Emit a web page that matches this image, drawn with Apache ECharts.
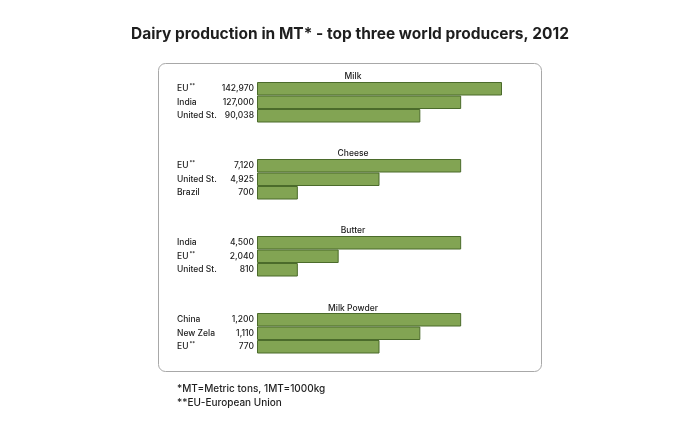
<!DOCTYPE html>
<html>
<head>
<meta charset="utf-8">
<script src="https://cdn.jsdelivr.net/npm/echarts@6/dist/echarts.min.js"></script>
<style>html,body{margin:0;padding:0;background:#fff;}#c{width:700px;height:436px;}</style>
</head>
<body>
<div id="c"></div>
<script>
// Panels (products)
var panelTitles = ['Milk', 'Cheese', 'Butter', 'Milk Powder'];
// Countries per panel (top to bottom)
var milkCountries = ['EU**', 'India', 'United St.'];
var cheeseCountries = ['EU**', 'United St.', 'Brazil'];
var butterCountries = ['India', 'EU**', 'United St.'];
var powderCountries = ['China', 'New Zela', 'EU**'];
// Printed production values (thousand MT)
var milkValues = [142970, 127000, 90038];
var cheeseValues = [7120, 4925, 700];
var butterValues = [4500, 2040, 810];
var powderValues = [1200, 1110, 770];
// Bar lengths as drawn in the picture (the picture's bars use a stepped scale)
var milkBars = [6, 5, 4];
var cheeseBars = [5, 3, 1];
var butterBars = [5, 2, 1];
var powderBars = [5, 4, 3];

var countries = [milkCountries, cheeseCountries, butterCountries, powderCountries];
var values = [milkValues, cheeseValues, butterValues, powderValues];
var bars = [milkBars, cheeseBars, butterBars, powderBars];

var FONT = 'Inter, "Noto Sans", sans-serif';
var LS = 8.5;
var gridTops = [82, 159, 236, 313];
var titleTops = [71.5, 149, 225.5, 303.5];

var grids = [], xAxes = [], yAxes = [], series = [], titles = [];
titles.push({
  text: 'Dairy production in MT* - top three world producers, 2012',
  left: 'center', top: 26.5, padding: 0,
  textStyle: {fontFamily: FONT, fontSize: 15.5, fontWeight: 'bold', color: '#1e1e1e'}
});
function fmt(v) { return v.toLocaleString('en-US'); }
for (var i = 0; i < 4; i++) {
  grids.push({left: 257, width: 245, top: gridTops[i], height: 40.5, containLabel: false});
  xAxes.push({type: 'value', gridIndex: i, min: 0, max: 6, show: false});
  yAxes.push({
    type: 'category', gridIndex: i, inverse: true, data: countries[i],
    axisLine: {show: false}, axisTick: {show: false},
    axisLabel: {
      margin: 80, align: 'left', fontFamily: FONT, fontSize: LS, fontWeight: 500, color: '#222',
      formatter: function (v) {
        if (v.indexOf('**') >= 0) return '{n|' + v.replace('**', '') + '}{s|**}';
        return '{n|' + v + '}';
      },
      rich: {
        n: {fontFamily: FONT, fontSize: LS, fontWeight: 500, color: '#222'},
        s: {fontFamily: FONT, fontSize: 5.5, color: '#222', verticalAlign: 'top', padding: [0, 0, 4, 1]}
      }
    }
  });
  (function (vals) {
    series.push({
      type: 'bar', xAxisIndex: i, yAxisIndex: i, data: bars[i],
      barCategoryGap: 0,
      itemStyle: {color: '#82a453', borderColor: '#4b6b2b', borderWidth: 1},
      label: {
        show: true, position: 'left', distance: 3,
        fontFamily: FONT, fontSize: LS, fontWeight: 500, color: '#222',
        formatter: function (p) { return fmt(vals[p.dataIndex]); }
      },
      silent: true, animation: false
    });
  })(values[i]);
  titles.push({
    text: panelTitles[i], left: 353, top: titleTops[i], textAlign: 'center', padding: 0,
    textStyle: {fontFamily: FONT, fontSize: LS, fontWeight: 500, color: '#222'}
  });
}

var chart = echarts.init(document.getElementById('c'), null, {renderer: 'canvas'});
chart.setOption({
  animation: false,
  backgroundColor: '#fff',
  title: titles,
  grid: grids, xAxis: xAxes, yAxis: yAxes, series: series,
  graphic: [
    {type: 'rect', shape: {x: 158.5, y: 63.5, width: 383, height: 308, r: 7},
     style: {fill: 'none', stroke: '#a8a8a8', lineWidth: 1}, z: -1, silent: true},
    {type: 'text', left: 177, top: 383.5, style: {text: '*MT=Metric tons, 1MT=1000kg', font: '500 10px ' + FONT, fill: '#1e1e1e'}},
    {type: 'text', left: 177, top: 397.5, style: {text: '**EU-European Union', font: '500 10px ' + FONT, fill: '#1e1e1e'}}
  ]
});
</script>
</body>
</html>
